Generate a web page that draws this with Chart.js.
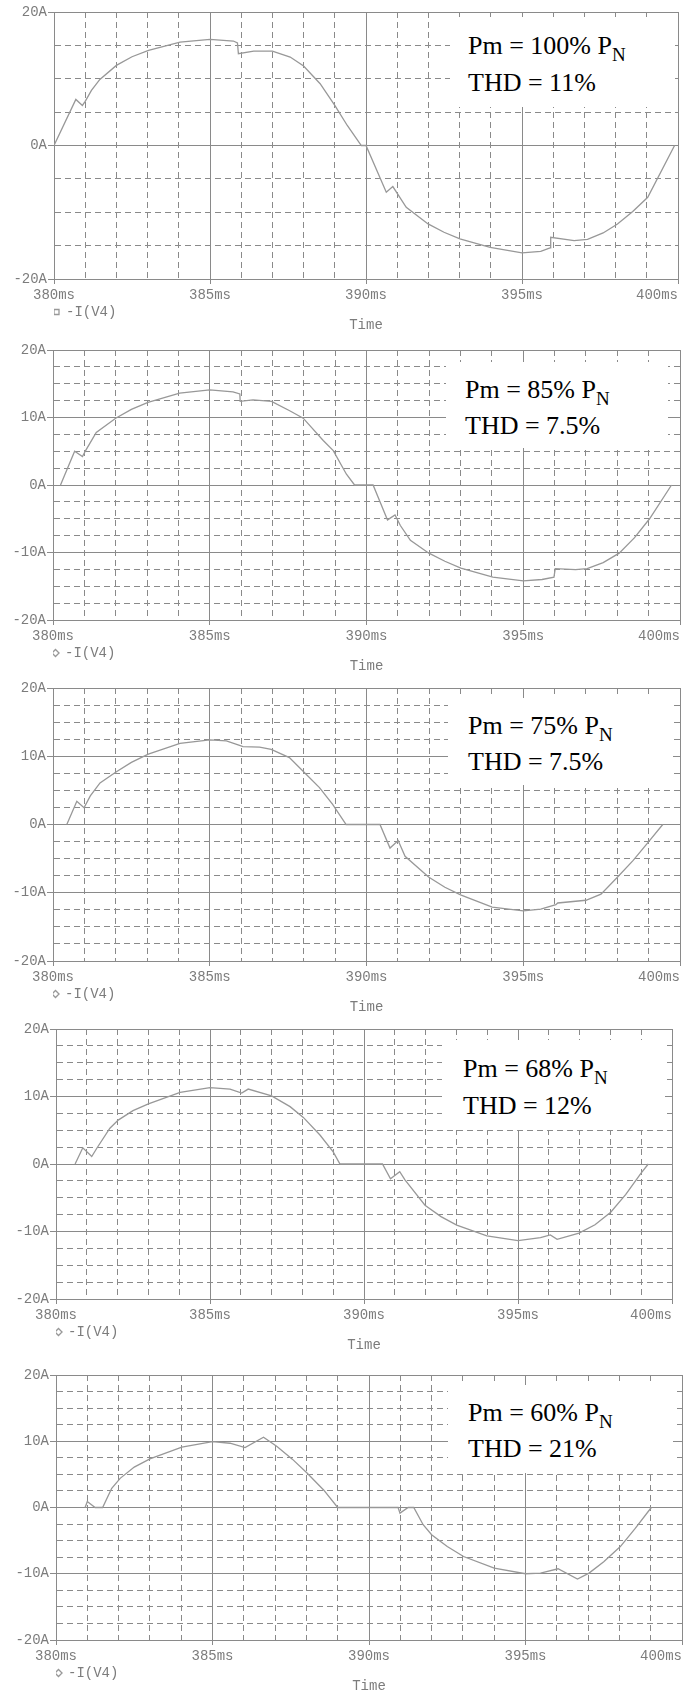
<!DOCTYPE html>
<html>
<head>
<meta charset="utf-8">
<script src="https://cdn.jsdelivr.net/npm/chart.js@4.4.1/dist/chart.umd.min.js"></script>
<style>
  body { margin: 0; background: #fff; }
  #page { position: relative; width: 696px; height: 1693px; overflow: hidden; }
  #page canvas { position: absolute; left: 0; }
  .note { position: absolute; background: #fff; }
  .note-line {
    position: absolute;
    font-family: 'Liberation Serif', 'Times New Roman', serif;
    font-size: 26px;
    line-height: 30px;
    color: #000;
    white-space: nowrap;
  }
  .note-line .sub { font-size: 19px; line-height: 0; position: relative; top: 7px; }
</style>
</head>
<body>
<div id="page"></div>
<script>
// time (ms) / current (A)
const t100 = [380, 380.70, 380.91, 381.0, 381.2, 381.47, 382.0, 382.5, 383.03, 384.04, 385.0, 385.75, 385.88, 385.91, 386.4, 387.0, 387.57, 388.0, 388.53, 389.0, 389.4, 389.85, 390.0, 390.65, 390.86, 391.29, 391.99, 392.5, 393.01, 393.98, 395.0, 395.6, 395.9, 395.92, 396.67, 397.1, 397.6, 398.06, 398.55, 399.03, 399.89];
const i100 = [0, 6.9, 6.0, 6.6, 8.25, 9.9, 12.0, 13.3, 14.25, 15.5, 15.9, 15.65, 15.35, 13.75, 14.15, 14.15, 13.25, 11.9, 9.25, 6.0, 3.0, 0, 0, -7.0, -6.15, -9.25, -11.75, -13.0, -14.0, -15.25, -16.1, -15.85, -15.35, -13.75, -14.25, -14.05, -13.1, -11.75, -9.9, -7.75, 0];

const t85 = [380.24, 380.69, 380.94, 381.04, 381.38, 382.0, 382.5, 383.03, 384.04, 385.0, 385.74, 385.96, 385.97, 386.38, 386.97, 387.55, 387.98, 388.62, 388.94, 389.36, 389.62, 390.21, 390.67, 390.91, 391.08, 391.4, 391.99, 392.5, 393.01, 394.03, 395.0, 395.6, 395.98, 396.02, 396.67, 397.04, 397.55, 398.06, 398.55, 399.03, 399.73];
const i85 = [0, 5.0, 4.2, 5.1, 7.8, 9.9, 11.2, 12.25, 13.6, 14.1, 13.8, 13.5, 12.4, 12.6, 12.4, 11.0, 9.9, 6.6, 5.1, 1.6, 0, 0, -5.17, -4.43, -6.0, -8.2, -10.1, -11.3, -12.3, -13.65, -14.2, -14.0, -13.65, -12.4, -12.55, -12.4, -11.5, -10.1, -7.8, -5.0, 0];

const t75 = [380.44, 380.76, 380.99, 381.19, 381.5, 382.01, 382.5, 383.04, 384.05, 385.0, 385.53, 385.95, 386.06, 386.59, 386.96, 387.54, 387.97, 388.5, 388.92, 389.35, 390.43, 390.75, 391.01, 391.23, 391.98, 392.5, 393.0, 394.01, 395.0, 395.56, 396.04, 396.1, 397.0, 397.48, 398.01, 398.5, 398.97, 399.45];
const i75 = [0, 3.4, 2.45, 4.2, 6.1, 7.7, 9.1, 10.3, 11.9, 12.4, 12.25, 11.6, 11.4, 11.35, 11.0, 9.8, 7.85, 5.4, 2.95, 0, 0, -3.45, -2.35, -4.65, -7.7, -9.2, -10.3, -12.1, -12.65, -12.4, -11.75, -11.5, -11.1, -10.2, -7.7, -5.3, -2.7, 0];

const t68 = [380.62, 380.87, 381.16, 381.32, 381.75, 382.02, 382.5, 383.0, 384.03, 385.0, 385.65, 386.03, 386.24, 387.0, 387.6, 388.03, 388.57, 389.0, 389.22, 390.6, 390.86, 391.16, 391.33, 391.98, 392.5, 393.01, 393.99, 395.0, 395.73, 396.05, 396.27, 396.98, 397.5, 398.01, 398.5, 398.99, 399.23];
const i68 = [0, 2.4, 1.1, 2.3, 5.3, 6.5, 7.9, 8.9, 10.6, 11.3, 11.1, 10.5, 11.1, 10.1, 8.5, 6.9, 4.3, 1.8, 0, 0, -2.2, -1.15, -2.35, -6.1, -7.8, -9.05, -10.65, -11.35, -10.9, -10.5, -11.15, -10.25, -9.0, -7.15, -4.5, -1.4, 0];

const t60 = [380.93, 381.0, 381.25, 381.49, 381.78, 382.05, 382.5, 383.0, 384.02, 385.0, 385.56, 386.04, 386.63, 387.06, 387.55, 388.02, 388.55, 389.0, 390.93, 390.99, 391.25, 391.43, 391.73, 392.0, 392.5, 393.02, 394.0, 395.0, 395.48, 396.04, 396.66, 397.03, 397.5, 398.03, 398.5, 399.02];
const i60 = [0, 0.9, 0, 0, 2.9, 4.4, 6.1, 7.35, 9.1, 9.95, 9.7, 9.05, 10.6, 9.2, 7.3, 5.2, 2.65, 0, 0, -0.85, 0, 0, -2.6, -4.1, -5.9, -7.4, -9.15, -10.0, -9.9, -9.25, -10.8, -9.9, -8.2, -5.9, -3.2, 0];

const pmLevels = ['100%', '85%', '75%', '68%', '60%'];
const thdLevels = ['11%', '7.5%', '7.5%', '12%', '21%'];
const timeTicks = [380, 385, 390, 395, 400];
const ampTicksCoarse = [-20, 0, 20];
const ampTicks = [-20, -10, 0, 10, 20];
const seriesLabel = '-I(V4)';
const xTitle = 'Time';

const series = [
  { t: t100, i: i100, step: 5, labels: ampTicksCoarse, marker: 'rect' },
  { t: t85, i: i85, step: 2.5, labels: ampTicks, marker: 'rectRot' },
  { t: t75, i: i75, step: 2.5, labels: ampTicks, marker: 'rectRot' },
  { t: t68, i: i68, step: 2.5, labels: ampTicks, marker: 'rectRot' },
  { t: t60, i: i60, step: 2.5, labels: ampTicks, marker: 'rectRot' },
];

// plot area of each panel in page pixels, white note box [x1, y1, x2, y2], text [x, baseline1, baseline2]
const panels = [
  { top: 12, bottom: 279, left: 54, right: 678, box: [450, 17, 673, 107], text: [468, 55, 92] },
  { top: 350, bottom: 620, left: 53, right: 680, box: [446, 362, 668, 448], text: [465, 399, 435] },
  { top: 688, bottom: 961, left: 53, right: 680, box: [448, 698, 673, 785], text: [468, 735, 771] },
  { top: 1029, bottom: 1299, left: 56, right: 672, box: [442, 1040, 665, 1130], text: [463, 1078, 1115] },
  { top: 1375, bottom: 1640, left: 56, right: 682, box: [448, 1385, 673, 1473], text: [468, 1422, 1458] },
];

const page = document.getElementById('page');
const grid = '#8a8a8a';
const textGrey = '#7c7c7c';
const mono = { family: "'Liberation Mono', 'DejaVu Sans Mono', monospace", size: 14, lineHeight: 1.2 };
const near = (v, list) => list.some(m => Math.abs(v - m) < 1e-6);

panels.forEach((p, k) => {
  const s = series[k];
  const padTop = 12;
  const below = 59; // x labels + legend + title + padding
  const canvas = document.createElement('canvas');
  canvas.width = 696;
  canvas.height = padTop + (p.bottom - p.top) + below;
  canvas.style.top = (p.top - padTop) + 'px';
  page.appendChild(canvas);

  new Chart(canvas, {
    type: 'line',
    data: {
      datasets: [{
        label: seriesLabel,
        data: s.t.map((t, j) => ({ x: t, y: s.i[j] })),
        borderColor: '#989898',
        backgroundColor: '#fff',
        borderWidth: 1.3,
        pointRadius: 0,
        pointStyle: s.marker,
        tension: 0,
      }],
    },
    options: {
      responsive: false,
      animation: false,
      layout: { padding: { top: padTop, right: 696 - p.right, bottom: 6, left: 0 } },
      scales: {
        x: {
          type: 'linear',
          min: 380,
          max: 400,
          ticks: {
            stepSize: 1,
            autoSkip: false,
            maxRotation: 0,
            padding: 3,
            color: textGrey,
            font: mono,
            callback: (v) => {
              if (!near(v, timeTicks)) return '';
              const txt = Math.round(v) + 'ms';
              // last label sits inside the frame
              return near(v, [timeTicks[timeTicks.length - 1]]) ? txt + '\u00a0'.repeat(5) : txt;
            },
          },
          grid: {
            color: grid,
            lineWidth: 1,
            tickLength: 5,
            tickColor: (c) => (c.tick && near(c.tick.value, timeTicks) ? grid : 'rgba(0,0,0,0)'),
          },
          border: {
            color: grid,
            dash: (c) => (c.type === 'tick' && !near(c.tick.value, timeTicks) ? [6, 4] : []),
          },
          afterFit: (sc) => { sc.height = 26; sc.paddingLeft = 0; sc.paddingRight = 0; },
        },
        y: {
          min: -20,
          max: 20,
          ticks: {
            stepSize: s.step,
            autoSkip: false,
            padding: 1,
            color: textGrey,
            font: mono,
            callback: (v) => (near(v, s.labels) ? Math.round(v) + 'A' : ''),
          },
          grid: {
            color: grid,
            lineWidth: 1,
            tickLength: 6,
            tickColor: (c) => (c.tick && near(c.tick.value, s.labels) ? grid : 'rgba(0,0,0,0)'),
          },
          border: {
            color: grid,
            dash: (c) => (c.type === 'tick' && !near(c.tick.value, s.labels) ? [6, 4] : []),
          },
          afterFit: (sc) => { sc.width = p.left; sc.paddingTop = 0; sc.paddingBottom = 0; },
        },
      },
      plugins: {
        legend: {
          position: 'bottom',
          align: 'start',
          fullSize: false,
          labels: {
            usePointStyle: true,
            boxWidth: 5,
            boxHeight: 5,
            padding: 0,
            color: textGrey,
            font: mono,
          },
        },
        title: {
          display: true,
          text: xTitle,
          position: 'bottom',
          fullSize: false,
          color: textGrey,
          font: { family: mono.family, size: 14, weight: 'normal', lineHeight: 1 },
          padding: { top: -11, bottom: 0 },
        },
        tooltip: { enabled: false },
      },
    },
  });

  // white label box over the grid
  const [bx1, by1, bx2, by2] = p.box;
  const box = document.createElement('div');
  box.className = 'note';
  box.style.cssText = `left:${bx1}px;top:${by1}px;width:${bx2 - bx1}px;height:${by2 - by1}px`;
  page.appendChild(box);

  const [tx, b1, b2] = p.text;
  const ascentOff = 23.8; // baseline offset inside a 30px line of 26px Liberation Serif
  const l1 = document.createElement('div');
  l1.className = 'note-line';
  l1.style.cssText = `left:${tx}px;top:${b1 - ascentOff}px`;
  l1.innerHTML = `Pm = ${pmLevels[k]} P<span class="sub">N</span>`;
  page.appendChild(l1);

  const l2 = document.createElement('div');
  l2.className = 'note-line';
  l2.style.cssText = `left:${tx}px;top:${b2 - ascentOff}px`;
  l2.textContent = `THD = ${thdLevels[k]}`;
  page.appendChild(l2);
});
</script>
</body>
</html>
